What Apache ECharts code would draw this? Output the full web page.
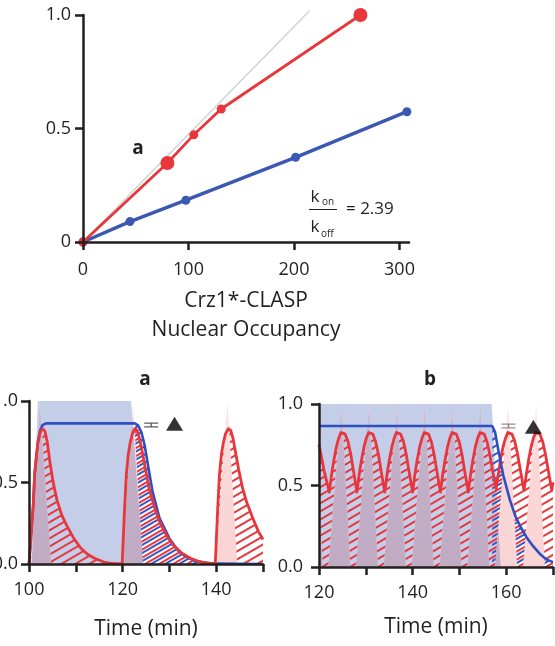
<!DOCTYPE html>
<html><head><meta charset="utf-8">
<script src="https://cdn.jsdelivr.net/npm/echarts@6/dist/echarts.min.js"></script>
<style>html,body{margin:0;padding:0;background:#fff}#c{width:555px;height:646px}</style>
</head><body><div id="c"></div>
<script>
// ---------- DATA ----------
// top panel
const topXTicks = [0, 100, 200, 300];
const topYTicks = [0, 0.5, 1.0];
const redTopX = [0, 80, 105, 131, 263];
const redTopY = [0, 0.348, 0.472, 0.586, 1.0];
const redTopBig = [false, true, false, false, true];
const blueTopX = [0, 44.5, 97.5, 201.5, 307];
const blueTopY = [0, 0.09, 0.184, 0.373, 0.574];
const grayRefX = [0, 215];
const grayRefY = [0, 1.02];
const ratioText = '= 2.39';

// panel a (time, value)
const redA = [[100,0],[100.4,0],[100.9,0.36],[101.2,0.55],[101.6,0.67],[101.9,0.74],[102.4,0.81],[102.9,0.83],[103.4,0.815],[103.9,0.75],[104.4,0.64],[105.1,0.51],[106,0.39],[107,0.3],[108,0.24],[109.5,0.16],[111,0.1],[112.5,0.06],[114,0.035],[116,0.012],[118,0.003],[119.9,0],
  [120.4,0.33],[120.8,0.55],[121.2,0.67],[121.6,0.74],[122.1,0.8],[122.6,0.83],[123.1,0.82],[123.6,0.77],[124,0.72],[124.7,0.61],[125.7,0.46],[126.8,0.35],[127.9,0.26],[129.3,0.18],[130.7,0.12],[132.5,0.07],[134.5,0.035],[136.5,0.014],[138.5,0.004],[139.8,0],
  [140.3,0.33],[140.7,0.55],[141.1,0.67],[141.5,0.74],[142,0.8],[142.6,0.83],[143.1,0.82],[143.6,0.77],[144.1,0.69],[144.8,0.58],[145.6,0.47],[146.5,0.38],[147.7,0.29],[149,0.2],[150,0.15]];
const blueA = [[100,0],[100.4,0],[100.9,0.36],[101.2,0.55],[101.6,0.67],[101.9,0.75],[102.4,0.82],[102.9,0.852],[103.6,0.863],[122.6,0.863],[123.3,0.85],[124,0.81],[124.7,0.73],[125.4,0.61],[126.4,0.445],[127.9,0.28],[130,0.157],[131.8,0.085],[133.5,0.045],[135,0.025],[137,0.01],[140,0.002],[150,0]];
const blueDecayA = [[122.6,0.863],[123.3,0.85],[124,0.81],[124.7,0.73],[125.4,0.61],[126.4,0.445],[127.9,0.28],[130,0.157],[131.8,0.085],[133.5,0.045],[135,0.025],[137,0.01],[140,0.002],[150,0]];
const inputA = [[100.6,0],[124.4,0],[121.8,1],[101.9,1]];
// pulse spikes: [left base, apex, right base]
const spikesA = [[100.4,102.3,104.7],[119.9,122.2,124.3],[139.8,142.4,144.5]];
const eqMarkA = [126.1, 0.853];
const triMarkA = [131.1, 0.86];

// panel b
const redB = [[120,0.75],[120.5,0.68],[121.1,0.59],[121.6,0.53],[122.2,0.46],
  [122.7,0.57],[123.2,0.66],[123.7,0.735],[124.2,0.79],[124.7,0.825],[125.1,0.83],[125.6,0.815],[126.2,0.77],[126.8,0.69],[127.4,0.585],[128.1,0.46],
  [128.6,0.57],[129.1,0.66],[129.6,0.735],[130.1,0.79],[130.6,0.825],[131.0,0.83],[131.5,0.815],[132.1,0.77],[132.7,0.69],[133.3,0.585],[134.05,0.46],
  [134.55,0.57],[135.05,0.66],[135.55,0.735],[136.05,0.79],[136.55,0.825],[136.95,0.83],[137.45,0.815],[138.05,0.77],[138.65,0.69],[139.25,0.585],[140.0,0.46],
  [140.5,0.57],[141.0,0.66],[141.5,0.735],[142.0,0.79],[142.5,0.825],[142.9,0.83],[143.4,0.815],[144.0,0.77],[144.6,0.69],[145.2,0.585],[145.95,0.46],
  [146.45,0.57],[146.95,0.66],[147.45,0.735],[147.95,0.79],[148.45,0.825],[148.85,0.83],[149.35,0.815],[149.95,0.77],[150.55,0.69],[151.15,0.585],[151.9,0.46],
  [152.4,0.57],[152.9,0.66],[153.4,0.735],[153.9,0.79],[154.4,0.825],[154.8,0.83],[155.3,0.815],[155.9,0.77],[156.5,0.69],[157.1,0.59],[157.85,0.48],
  [158.35,0.58],[158.85,0.67],[159.35,0.74],[159.85,0.79],[160.35,0.825],[160.75,0.83],[161.25,0.815],[161.85,0.77],[162.45,0.69],[163.05,0.59],[163.8,0.47],
  [164.3,0.57],[164.8,0.66],[165.3,0.735],[165.8,0.79],[166.3,0.825],[166.7,0.83],[167.2,0.815],[167.8,0.77],[168.4,0.69],[169.0,0.59],[169.75,0.47],[170,0.52]];
const blueB = [[120,0.865],[157,0.865],[157.6,0.83],[158.3,0.72],[159.4,0.56],[160.8,0.41],[162,0.31],[163,0.25],[164.4,0.18],[165.8,0.126],[167.2,0.08],[168.7,0.045],[170,0.03]];
const blueDecayB = [[157,0.865],[157.6,0.83],[158.3,0.72],[159.4,0.56],[160.8,0.41],[162,0.31],[163,0.25],[164.4,0.18],[165.8,0.126],[167.2,0.08],[168.7,0.045],[170,0.03]];
const inputB = [[115,0],[158.8,0],[156.9,1],[115,1]];
const spikesB = [[116.1,118.9,120.8],[122.0,124.8,126.7],[127.9,130.7,132.6],[133.85,136.65,138.55],[139.8,142.6,144.5],[145.75,148.55,150.45],[151.7,154.5,156.4],[157.65,160.45,162.35],[163.6,166.4,168.3]];
const eqMarkB = [160.5, 0.865];
const triMarkB = [165.8, 0.86];

// ---------- STYLE ----------
const FONT = '"Open Sans", sans-serif';
const INK = '#231f20';
const RED = '#e8373c';
const BLUE_TOP = '#3b58b3';
const BLUE_LINE = '#2e4fc2';
const INPUT_FILL = '#c5cee9';
const PINK_GRAD = () => new echarts.graphic.LinearGradient(0, 0, 0, 1, [{ offset: 0, color: '#fdeaea' }, { offset: 0.35, color: '#fad9d9' }, { offset: 1, color: '#f9d4d4' }]);
const MAUVE_GRAD = () => new echarts.graphic.LinearGradient(0, 0, 0, 1, [{ offset: 0, color: '#c6c0db' }, { offset: 0.35, color: '#c2b0c8' }, { offset: 1, color: '#c0abc3' }]);

// convex polygon clipping (data space)
function clipPoly(subject, clip) {
  let out = subject;
  for (let i = 0; i < clip.length; i++) {
    const A = clip[i], B = clip[(i + 1) % clip.length];
    const inp = out; out = [];
    const side = p => (B[0]-A[0])*(p[1]-A[1]) - (B[1]-A[1])*(p[0]-A[0]);
    for (let j = 0; j < inp.length; j++) {
      const P = inp[j], Q = inp[(j + 1) % inp.length];
      const sp = side(P), sq = side(Q);
      if (sp >= 0) out.push(P);
      if ((sp >= 0) !== (sq >= 0)) {
        const t = sp / (sp - sq);
        out.push([P[0] + t*(Q[0]-P[0]), P[1] + t*(Q[1]-P[1])]);
      }
    }
    if (!out.length) break;
  }
  return out;
}
function polySeries(polysIn, fillFn, xi, z) {
  const polys = polysIn.filter(p => p && p.length >= 3);
  return {
    type: 'custom', xAxisIndex: xi, yAxisIndex: xi, z: z, clip: true, silent: true,
    data: polys.map((p, i) => [p[0][0], p[0][1], i]),
    renderItem: (params, api) => {
      const poly = polys[params.dataIndex];
      return { type: 'polygon', shape: { points: poly.map(pt => api.coord(pt)) }, style: { fill: typeof fillFn === 'function' ? fillFn() : fillFn } };
    }
  };
}
function spikePolys(spikes) { return spikes.map(s => [[s[0],0],[s[2],0],[s[1],1]]); }
function hatch(data, color, dashY, xi, z) {
  return {
    type: 'line', xAxisIndex: xi, yAxisIndex: xi, z: z, data: data, showSymbol: false, silent: true,
    lineStyle: { width: 0, opacity: 0 },
    itemStyle: { color: color, decal: { symbol: 'rect', symbolSize: 1, color: color, dashArrayX: [1, 0], dashArrayY: dashY, rotation: -Math.PI / 6 } },
    areaStyle: { color: 'rgba(255,255,255,0)', opacity: 1 }
  };
}
const eqSymbol = 'path://M0,0h14v1.3h-14z M0,3.6h14v1.3h-14z M6.3,0h1.4v4.9h-1.4z';

function bottomPanel(xi, red, blue, blueDecay, input, spikes, eqMark, triMark, eqColor, redOnTop) {
  const tris = spikePolys(spikes);
  const inter = tris.map(t => clipPoly(t, input));
  return [
    polySeries([input], INPUT_FILL, xi, 1),
    hatch(red, RED, [2, 5], xi, 2),
    hatch(blueDecay, '#3557c8', [0, 3, 2, 2], xi, 2.5),
    polySeries(tris, PINK_GRAD, xi, 3),
    polySeries(inter, MAUVE_GRAD, xi, 3.5),
    { type: 'line', xAxisIndex: xi, yAxisIndex: xi, z: redOnTop ? 6 : 5, data: red, showSymbol: false, silent: true,
      lineStyle: { color: RED, width: 2.8, join: 'round' } },
    { type: 'line', xAxisIndex: xi, yAxisIndex: xi, z: redOnTop ? 5 : 6, data: blue, showSymbol: false, silent: true,
      lineStyle: { color: BLUE_LINE, width: 2.6, join: 'round' } },
    { type: 'scatter', xAxisIndex: xi, yAxisIndex: xi, z: 7, silent: true, clip: false,
      data: [eqMark], symbol: eqSymbol, symbolSize: [14, 5], itemStyle: { color: eqColor } },
    { type: 'scatter', xAxisIndex: xi, yAxisIndex: xi, z: 7, silent: true, clip: false,
      data: [triMark], symbol: 'triangle', symbolSize: [17, 14], itemStyle: { color: '#000' } }
  ];
}

const axisCommon = {
  axisLine: { show: true, lineStyle: { color: INK, width: 2.5 } },
  axisTick: { show: true, length: 8, lineStyle: { color: INK, width: 2.5 } },
  splitLine: { show: false },
  z: 10
};
const labelStyle = { fontFamily: FONT, fontSize: 18, color: INK };

const option = {
  backgroundColor: '#fff',
  animation: false,
  grid: [
    { left: 83, top: 15, width: 326, height: 227, containLabel: false, outerBoundsMode: 'none' },
    { left: 29, top: 401, width: 234, height: 163, containLabel: false, outerBoundsMode: 'none' },
    { left: 319, top: 404, width: 234, height: 163, containLabel: false, outerBoundsMode: 'none' }
  ],
  xAxis: [
    Object.assign({}, axisCommon, { gridIndex: 0, type: 'value', min: 0, max: 309, interval: 100,
      axisTick: Object.assign({}, axisCommon.axisTick, { customValues: topXTicks }),
      axisLabel: Object.assign({}, labelStyle, { margin: 19, customValues: topXTicks }),
      name: 'Crz1*-CLASP\nNuclear Occupancy', nameLocation: 'middle', nameGap: 45,
      nameTextStyle: { fontFamily: FONT, fontSize: 21, lineHeight: 29, color: INK } }),
    Object.assign({}, axisCommon, { gridIndex: 1, type: 'value', min: 100, max: 150, interval: 10,
      axisLabel: Object.assign({}, labelStyle, { margin: 17, formatter: v => (v % 20 === 0 && v < 150) ? String(v) : '' }),
      name: 'Time (min)', nameLocation: 'middle', nameGap: 55,
      nameTextStyle: { fontFamily: FONT, fontSize: 21, color: INK } }),
    Object.assign({}, axisCommon, { gridIndex: 2, type: 'value', min: 120, max: 170, interval: 10,
      axisLabel: Object.assign({}, labelStyle, { margin: 17, formatter: v => (v % 20 === 0 && v < 170) ? String(v) : '' }),
      name: 'Time (min)', nameLocation: 'middle', nameGap: 50,
      nameTextStyle: { fontFamily: FONT, fontSize: 21, color: INK } })
  ],
  yAxis: [
    Object.assign({}, axisCommon, { gridIndex: 0, type: 'value', min: 0, max: 1, interval: 0.5,
      axisTick: Object.assign({}, axisCommon.axisTick, { customValues: topYTicks }),
      axisLabel: Object.assign({}, labelStyle, { margin: 12, customValues: topYTicks, formatter: v => v === 0 ? '0' : v.toFixed(1) }) }),
    Object.assign({}, axisCommon, { gridIndex: 1, type: 'value', min: 0, max: 1, interval: 0.5,
      axisLabel: Object.assign({}, labelStyle, { margin: 11, formatter: v => v.toFixed(1) }) }),
    Object.assign({}, axisCommon, { gridIndex: 2, type: 'value', min: 0, max: 1, interval: 0.5,
      axisLabel: Object.assign({}, labelStyle, { margin: 16, formatter: v => v.toFixed(1) }) })
  ],
  series: [
    { type: 'line', xAxisIndex: 0, yAxisIndex: 0, z: 2, clip: false, silent: true, showSymbol: false,
      data: grayRefX.map((x, i) => [x, grayRefY[i]]), lineStyle: { color: '#d3d3d3', width: 1.5 } },
    { type: 'line', xAxisIndex: 0, yAxisIndex: 0, z: 3, clip: false, silent: true,
      data: blueTopX.map((x, i) => [x, blueTopY[i]]), symbol: 'circle', symbolSize: 9,
      lineStyle: { color: BLUE_TOP, width: 3.5 }, itemStyle: { color: BLUE_TOP } },
    { type: 'line', xAxisIndex: 0, yAxisIndex: 0, z: 4, clip: false, silent: true,
      data: redTopX.map((x, i) => [x, redTopY[i]]), symbol: 'circle',
      symbolSize: (v, p) => redTopBig[p.dataIndex] ? 14 : 9,
      lineStyle: { color: RED, width: 2.8 }, itemStyle: { color: RED } }
  ].concat(
    bottomPanel(1, redA, blueA, blueDecayA, inputA, spikesA, eqMarkA, triMarkA, '#333', true),
    bottomPanel(2, redB, blueB, blueDecayB, inputB, spikesB, eqMarkB, triMarkB, '#777', false)
  ),
  graphic: [
    { type: 'text', x: 138, y: 149, style: { text: 'a', font: 'bold 19px ' + FONT, fill: INK, textAlign: 'center', textVerticalAlign: 'middle' } },
    { type: 'text', x: 315, y: 197, style: { text: 'k', font: '17px ' + FONT, fill: INK, textAlign: 'center', textVerticalAlign: 'middle' } },
    { type: 'text', x: 322, y: 202, style: { text: 'on', font: '10px ' + FONT, fill: INK, textAlign: 'left', textVerticalAlign: 'middle' } },
    { type: 'line', shape: { x1: 309, y1: 209.5, x2: 337, y2: 209.5 }, style: { stroke: INK, lineWidth: 1 } },
    { type: 'text', x: 315, y: 227, style: { text: 'k', font: '17px ' + FONT, fill: INK, textAlign: 'center', textVerticalAlign: 'middle' } },
    { type: 'text', x: 321, y: 234, style: { text: 'off', font: '10px ' + FONT, fill: INK, textAlign: 'left', textVerticalAlign: 'middle' } },
    { type: 'text', x: 346, y: 209, style: { text: ratioText, font: '17px ' + FONT, fill: INK, textAlign: 'left', textVerticalAlign: 'middle' } },
    { type: 'text', x: 145, y: 380, style: { text: 'a', font: 'bold 19px ' + FONT, fill: INK, textAlign: 'center', textVerticalAlign: 'middle' } },
    { type: 'text', x: 430, y: 380, style: { text: 'b', font: 'bold 19px ' + FONT, fill: INK, textAlign: 'center', textVerticalAlign: 'middle' } }
  ]
};
const chart = echarts.init(document.getElementById('c'), null, { renderer: 'canvas' });
chart.setOption(option);
</script>
</body></html>
